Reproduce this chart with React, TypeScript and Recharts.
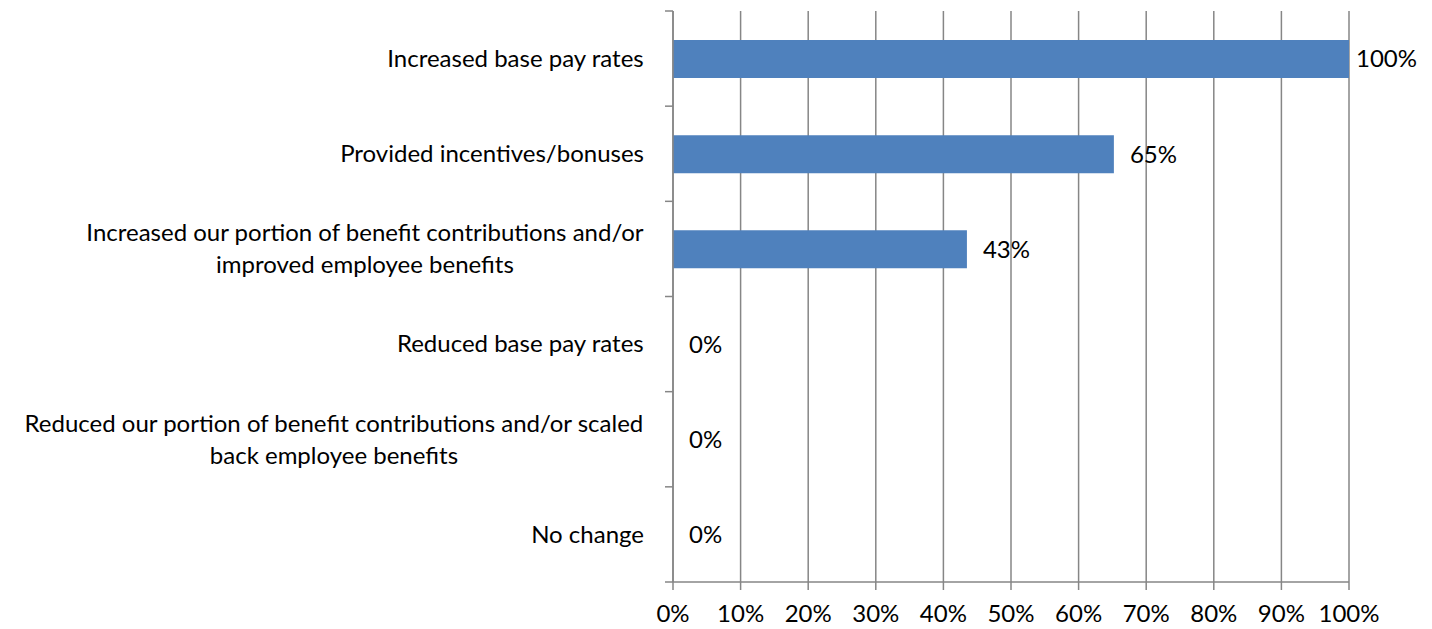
import React from "react";
import { BarChart, Bar, XAxis, YAxis, CartesianGrid, LabelList } from "recharts";

const categories = [
  "Increased base pay rates",
  "Provided incentives/bonuses",
  "Increased our portion of benefit contributions and/or\nimproved employee benefits",
  "Reduced base pay rates",
  "Reduced our portion of benefit contributions and/or scaled\nback employee benefits",
  "No change",
];
const values = [100, 65.22, 43.48, 0, 0, 0];
const xTicks = [0, 10, 20, 30, 40, 50, 60, 70, 80, 90, 100];

const W = 1432;
const H = 629;
const X_AXIS_H = 47;
const M = { top: 11, right: 83, bottom: 0, left: 0 };
const Y_AXIS_W = 673;
const FONT = "Lato, 'Open Sans', sans-serif";
const FS = 24;
const GRAY = "#868686";

const data = categories.map((name, i) => ({ name, value: values[i] }));

let ctx: CanvasRenderingContext2D | null = null;
const measure = (s: string) => {
  if (!ctx) ctx = document.createElement("canvas").getContext("2d");
  if (!ctx) return s.length * 11;
  ctx.font = `${FS}px ${FONT}`;
  return ctx.measureText(s).width;
};

// height of one category band in the plot
const band = (H - M.top - X_AXIS_H) / categories.length;

const CategoryTick = (props: any) => {
  const { x, y, payload, index } = props;
  const lines = String(payload.value).split("\n");
  const blockW = Math.max(...lines.map(measure));
  const right = x - 29;
  const cx = right - blockW / 2;
  const lh = 32;
  const startY = y - ((lines.length - 1) * lh) / 2;
  return (
    <g>
      <line x1={x - 8} x2={x} y1={y - band / 2} y2={y - band / 2} stroke={GRAY} strokeWidth={1.5} />
      {index === categories.length - 1 && (
        <line x1={x - 8} x2={x} y1={y + band / 2} y2={y + band / 2} stroke={GRAY} strokeWidth={1.5} />
      )}
      <text textAnchor="middle" fontFamily={FONT} fontSize={FS} fill="#000">
        {lines.map((l, i) => (
          <tspan key={i} x={cx} y={startY + i * lh} dy="0.35em">
            {l}
          </tspan>
        ))}
      </text>
    </g>
  );
};

const ValueLabel = (props: any) => {
  const { x, y, width, height, value } = props;
  const lx = Math.min(x + width + 16, 1356);
  return (
    <text x={lx} y={y + height / 2} dy="0.35em" fontFamily={FONT} fontSize={FS} fill="#000">
      {`${Math.round(value)}%`}
    </text>
  );
};

export default function App() {
  return (
    <div style={{ position: "absolute", left: 0, top: 0, width: W, height: H, background: "#fff" }}>
      <BarChart width={W} height={H} data={data} layout="vertical" margin={M}>
        <CartesianGrid horizontal={false} stroke={GRAY} strokeWidth={1.5} />
        <XAxis
          type="number"
          domain={[0, 100]}
          ticks={xTicks}
          tickFormatter={(v) => `${v}%`}
          stroke={GRAY}
          strokeWidth={1.5}
          tickSize={8}
          tickMargin={15}
          height={X_AXIS_H}
          tick={{ fill: "#000", fontSize: FS, fontFamily: FONT }}
          interval={0}
        />
        <YAxis
          type="category"
          dataKey="name"
          width={Y_AXIS_W}
          stroke={GRAY}
          strokeWidth={1.5}
          tickLine={false}
          tickSize={0}
          tickMargin={0}
          tick={<CategoryTick />}
          interval={0}
        />
        <Bar dataKey="value" fill="#4F81BD" barSize={38} minPointSize={0.01} isAnimationActive={false}>
          <LabelList dataKey="value" content={<ValueLabel />} />
        </Bar>
      </BarChart>
    </div>
  );
}
